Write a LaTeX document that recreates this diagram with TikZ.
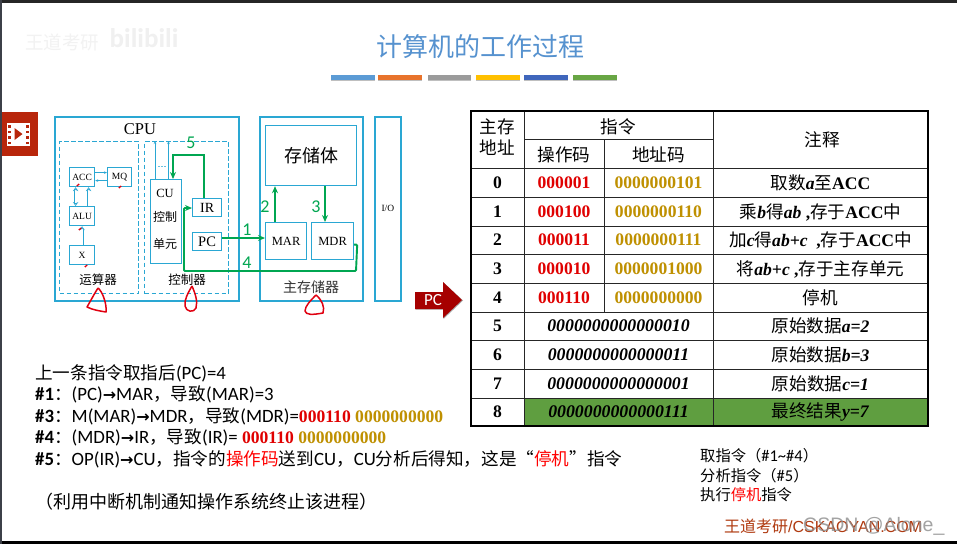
\documentclass[tikz,border=0pt]{standalone}
\usepackage{fontspec}
\usetikzlibrary{arrows.meta,calc,positioning}
\setmainfont{Liberation Serif}
\newfontfamily\cjk{Noto Sans CJK SC}
\newfontfamily\calfont{Carlito}
\newfontfamily\djv{DejaVu Sans}
\newfontfamily\lsans{Liberation Sans}
\newcommand\fz[1]{\fontsize{#1}{#1}\selectfont}
\newcommand\C[1]{{\cjk\mdseries\upshape #1}}
\newcommand\D[2]{{\cjk\mdseries\upshape\fz{#1}#2}}
\newcommand\Arw{{\djv\bfseries\fz{16}→}}
\definecolor{cyanc}{HTML}{2AA7D3}
\definecolor{grn}{HTML}{00A651}
\definecolor{redc}{HTML}{E00000}
\definecolor{gold}{HTML}{BF9000}
\definecolor{penred}{HTML}{E00010}
\definecolor{brick}{HTML}{B8260B}
\definecolor{tgreen}{HTML}{5F9E40}
\definecolor{titleblue}{HTML}{5692CF}
\definecolor{brandc}{HTML}{B03A10}
\definecolor{stripc}{HTML}{3C4048}
\newcommand\Op[1]{\textcolor{redc}{\textbf{#1}}}
\newcommand\Ad[1]{\textcolor{gold}{\textbf{#1}}}
\tikzset{
  bx/.style={draw=cyanc,line width=1.2pt,inner sep=0pt,anchor=north west,align=center},
  outer/.style={bx,line width=1.7pt},
  dbox/.style={draw=cyanc,line width=1.1pt,dash pattern=on 4.5pt off 2.5pt,inner sep=0pt,anchor=north west},
  lbl/.style={inner sep=0pt,align=center},
  gnum/.style={inner sep=0pt,text=grn,font=\calfont\fz{18}},
  garrow/.style={draw=grn,line width=1.9pt,-{Stealth[length=7pt,width=6pt]}},
  thinarrow/.style={draw=cyanc,line width=0.6pt,-{Stealth[length=3pt,width=2.5pt]}},
  hollow/.style={draw=cyanc,line width=0.6pt,double=white,double distance=1.8pt,-{Stealth[length=4pt,width=5.5pt,open,fill=white]}},
  hollowb/.style={hollow,{Stealth[length=4pt,width=5.5pt,open,fill=white]}-{Stealth[length=4pt,width=5.5pt,open,fill=white]}},
  redpen/.style={draw=penred,line width=1.5pt,line join=round},
  cell/.style={inner sep=0pt,font=\bfseries\fz{17.6}},
  txt/.style={inner sep=0pt,anchor=west,font=\calfont\fz{18.8}},
  txts/.style={inner sep=0pt,anchor=west,font=\calfont\fz{16.5}},
  tline/.style={draw=black!85,line width=0.8pt},
}
\begin{document}
\begin{tikzpicture}[x=1pt,y=-1pt]
\useasboundingbox (0,0) rectangle (957,544);
% frame
\fill[white] (0,0) rectangle (957,544);
\fill[black!85] (0,0) rectangle (957,3);
\fill[black] (0,541) rectangle (957,544);
\fill[stripc] (0,0) rectangle (2,544);
% watermark
\node[lbl,text=black!5,font=\cjk\fz{18.5}] (wm1) at (62,42) {王道考研};
\node[lbl,text=black!6,font=\calfont\bfseries\fz{27}] (wm2) at (144,38) {bilibili};
% title
\node[lbl,text=titleblue,font=\cjk\fz{26}] (title) at (480,47) {计算机的工作过程};
\foreach \a/\b/\c in {331/375/5B9BD5,378/422/E8732C,428/471/9B9B9B,476/520/FFC000,524/568/3F66BC,573/617/68A644}{
  \definecolor{barc}{HTML}{\c}
  \fill[black!25] (\a,76.5) rectangle (\b,80.5);
  \fill[barc] (\a,75) rectangle (\b,79.5);
}
% film icon
\fill[brick] (2,112) rectangle (38,156);
\fill[white] (7,122.5) rectangle (30,146);
\fill[brick] (14.5,128) -- (22.5,134) -- (14.5,140) -- cycle;
\foreach \yy in {125,130.5,136,141.5}{
  \fill[brick] (8,\yy) rectangle (11,\yy+2.5);
  \fill[brick] (26,\yy) rectangle (29,\yy+2.5);
}
% CPU
\node[outer,minimum width=184pt,minimum height=184pt] (cpu) at (54,116) {};
\node[lbl,font=\fz{16.5}] (cputxt) at (140,129) {CPU};
\node[dbox,minimum width=79pt,minimum height=152pt] (alubox) at (59,141) {};
\node[dbox,minimum width=84pt,minimum height=152pt] (ctl) at (144,141) {};
\node[bx,font=\fz{9.5},minimum width=25pt,minimum height=19pt] (acc) at (69,167) {ACC};
\node[bx,font=\fz{9.5},minimum width=24pt,minimum height=19pt] (mq) at (107,167) {MQ};
\node[bx,font=\fz{9.5},minimum width=25pt,minimum height=19pt] (alu) at (69,206) {ALU};
\node[bx,font=\fz{9.5},minimum width=25pt,minimum height=19pt] (xr) at (69,245) {X};
\node[lbl,font=\cjk\fz{12.5}] (yun) at (98,280) {运算器};
\node[lbl,font=\cjk\fz{12.5}] (kong) at (187,280) {控制器};
\node[bx,minimum width=31pt,minimum height=84pt] (cu) at (150,179) {};
\node[lbl,font=\fz{12.5}] (cut) at (165,193) {CU};
\node[lbl,font=\cjk\fz{12}] (cut2) at (165,217) {控制};
\node[lbl,font=\cjk\fz{12}] (cut3) at (165,244) {单元};
\node[bx,font=\fz{14},minimum width=29pt,minimum height=18pt] (ir) at (192,198) {IR};
\node[bx,font=\fz{14.5},minimum width=29pt,minimum height=18pt] (pc) at (192,232) {PC};
% CPU inner connectors
\draw[thinarrow] ([yshift=4.5pt]acc.east) -- ([yshift=4.5pt]acc.east -| mq.west);
\draw[thinarrow] ([yshift=-3.5pt]mq.west) -- ([yshift=-3.5pt]mq.west -| acc.east);
\draw[hollowb] ([xshift=-6.5pt]acc.south) -- ([xshift=-6.5pt]alu.north);
\draw[hollow] ([xshift=6.5pt]alu.north) -- ([xshift=6.5pt]acc.south);
\draw[hollow] (xr.north) -- (alu.south);
\coordinate (c1) at (155,141);
\coordinate (c2) at (168.5,141);
\draw[thinarrow] (c1 |- cu.north) -- (c1);
\draw[thinarrow] (c2 |- cu.north) -- (c2);
\draw[cyanc!70,line width=0.9pt,dash pattern=on 1.5pt off 1.7pt] (158,166) -- (167,166);
% Memory
\node[outer,minimum width=103pt,minimum height=184pt] (mem) at (259,116) {};
\node[bx,font=\cjk\fz{18},minimum width=91pt,minimum height=60pt] (body) at (265,125) {存储体};
\node[bx,font=\fz{12.5},minimum width=41pt,minimum height=37pt] (mar) at (265,222) {MAR};
\node[bx,font=\fz{12.5},minimum width=42pt,minimum height=37pt] (mdr) at (311,222) {MDR};
\node[lbl,font=\cjk\fz{14},text=black!80] (zhu) at (311,287) {主存储器};
\node[outer,font=\fz{9.5},minimum width=26pt,minimum height=184pt] (io) at (374,116) {I/O};
% green connectors
\draw[garrow] ([xshift=-3.5pt]ir.north) |- (173,155) -- (173,179);
\draw[garrow] (pc.east |- 0,238) -- (mar.west |- 0,238);
\draw[garrow] (mar.north -| 275,0) -- (body.south -| 275,0);
\draw[garrow] (body.south -| 325,0) -- (mdr.north -| 325,0);
\draw[garrow,rounded corners=1pt] ([yshift=-3.5pt]mdr.east) -- ++(3,0) -- (356,271) -- (184,271) |- (ir.west |- 0,208);
\node[gnum] (n1) at (247,230) {1};
\node[gnum] (n2) at (265,207) {2};
\node[gnum] (n3) at (316,207) {3};
\node[gnum] (n4) at (247,263) {4};
\node[gnum] (n5) at (191,143) {5};
% red pen
\draw[redpen] (98,288) .. controls (93,296) and (90,302) .. (87,307) .. controls (93,310) and (100,311) .. (106,312) .. controls (107,305) and (103,292) .. (98,288);
\draw[redpen] (192,286) .. controls (188,293) and (184,300) .. (185,306) .. controls (186,312) and (194,313) .. (196,308) .. controls (198,301) and (195,293) .. (192,286);
\draw[redpen] (316,295) .. controls (311,300) and (305,306) .. (305,311) .. controls (306,315) and (312,315) .. (323,313) .. controls (325,307) and (322,300) .. (316,295);
\foreach \px/\py in {78/185,120/187,80/229,86/266}{
  \draw[penred,line width=1.3pt] (\px-1.2,\py+1) -- (\px+1.2,\py-1);
}
% PC arrow
\fill[black!35] (415.5,292.5) -- (443.5,292.5) -- (443.5,282.5) -- (463,300.5) -- (443.5,319) -- (443.5,309.5) -- (415.5,309.5) -- cycle;
\fill[red!65!black] (415,292) -- (443,292) -- (443,282) -- (462,300) -- (443,318) -- (443,309) -- (415,309) -- cycle;
\node[lbl,text=white,font=\calfont\fz{17}] (pcarrow) at (433,300) {PC};
% table
\fill[tgreen] (524,398) rectangle (928,426);
\foreach \yy in {168,197,226,254,283,312,340,369,398}{ \draw[tline] (471,\yy) -- (928,\yy); }
\draw[tline] (524,139) -- (713,139);
\draw[tline] (524,111) -- (524,426);
\draw[tline] (604,139) -- (604,312);
\draw[tline] (713,111) -- (713,426);
\draw[black,line width=1.6pt] (471,111) rectangle (928,426);
\node[lbl,font=\cjk\fz{17.6}] (h1) at (497.5,127) {主存};
\node[lbl,font=\cjk\fz{17.6}] (h2) at (497.5,148) {地址};
\node[lbl,font=\cjk\fz{17.6}] (h3) at (618.5,127) {指令};
\node[lbl,font=\cjk\fz{17.6}] (h4) at (564,155) {操作码};
\node[lbl,font=\cjk\fz{17.6}] (h5) at (658.5,155) {地址码};
\node[lbl,font=\cjk\fz{17.6}] (h6) at (822,140) {注释};
\foreach \n/\yy in {0/183,1/212,2/240,3/269,4/297.5,5/326,6/354.5,7/383.5,8/412}{
  \node[cell] (a\n) at (497.5,\yy) {\n};
}
\node[cell] (p0) at (564,183) {\Op{000001}};
\node[cell] (p1) at (564,212) {\Op{000100}};
\node[cell] (p2) at (564,240) {\Op{000011}};
\node[cell] (p3) at (564,269) {\Op{000010}};
\node[cell] (p4) at (564,297.5) {\Op{000110}};
\node[cell] (d0) at (658.5,183) {\Ad{0000000101}};
\node[cell] (d1) at (658.5,212) {\Ad{0000000110}};
\node[cell] (d2) at (658.5,240) {\Ad{0000000111}};
\node[cell] (d3) at (658.5,269) {\Ad{0000001000}};
\node[cell] (d4) at (658.5,297.5) {\Ad{0000000000}};
\node[cell,font=\bfseries\itshape\fz{17.8}] (w5) at (618.5,326) {0000000000000010};
\node[cell,font=\bfseries\itshape\fz{17.8}] (w6) at (618.5,354.5) {0000000000000011};
\node[cell,font=\bfseries\itshape\fz{17.8}] (w7) at (618.5,383.5) {0000000000000001};
\node[cell,font=\bfseries\itshape\fz{17.8}] (w8) at (618.5,412) {0000000000000111};
\node[cell] (n0) at (820.5,183) {\C{取数}\textit{a}\C{至}ACC};
\node[cell] (n1x) at (820.5,212) {\C{乘}\textit{b}\C{得}\textit{ab} ,\C{存于}ACC\C{中}};
\node[cell] (n2x) at (820.5,240) {\C{加}\textit{c}\C{得}\textit{ab+c}\ \ ,\C{存于}ACC\C{中}};
\node[cell] (n3x) at (820.5,269) {\C{将}\textit{ab+c} ,\C{存于主存单元}};
\node[cell] (n4x) at (820.5,297.5) {\C{停机}};
\node[cell] (n5x) at (820.5,326) {\C{原始数据}\textit{a=2}};
\node[cell] (n6x) at (820.5,354.5) {\C{原始数据}\textit{b=3}};
\node[cell] (n7x) at (820.5,383.5) {\C{原始数据}\textit{c=1}};
\node[cell] (n8x) at (820.5,412) {\C{最终结果}\textit{y=7}};
% lower text
\node[txt] (t0) at (35,373) {\D{17.6}{上一条指令取指后}(PC)=4};
\node[txt] (t1) at (35,394) {\textbf{\#1}\D{17.6}{：}(PC)\Arw MAR\D{17.6}{，导致}(MAR)=3};
\node[txt] (t3) at (35,416) {\textbf{\#3}\D{17.6}{：}M(MAR)\Arw MDR\D{17.6}{，导致}(MDR)={\rmfamily\fz{17.6}\Op{000110} \Ad{0000000000}}};
\node[txt] (t4) at (35,437) {\textbf{\#4}\D{17.6}{：}(MDR)\Arw IR\D{17.6}{，导致}(IR)= {\rmfamily\fz{17.6}\Op{000110} \Ad{0000000000}}};
\node[txt] (t5) at (35,459) {\textbf{\#5}\D{17.6}{：}OP(IR)\Arw CU\D{17.6}{，指令的}\textcolor{red}{\D{17.6}{操作码}}\D{17.6}{送到}CU\D{17.6}{，}CU\D{17.6}{分析后得知，这是“}\textcolor{red}{\D{17.6}{停机}}\D{17.6}{”指令}};
\node[txt] (t6) at (35,502) {\D{18}{（利用中断机制通知操作系统终止该进程）}};
\node[txts] (r1) at (700,456) {\D{15.3}{取指令（}\#1\textasciitilde\#4\D{15.3}{）}};
\node[txts] (r2) at (700,476) {\D{15.3}{分析指令（}\#5\D{15.3}{）}};
\node[txts] (r3) at (700,495) {\D{15.3}{执行}\textcolor{red}{\D{15.3}{停机}}\D{15.3}{指令}};
\node[inner sep=0pt,anchor=west,text=brandc,font=\lsans\fz{16}] (brand) at (724,526) {\C{王道考研}/CSKAOYAN.COM};
\node[inner sep=0pt,anchor=west,text=black!45,opacity=.8,font=\lsans\fz{19.5}] (csdn) at (803,526) {CSDN @Alone\_};
\end{tikzpicture}
\end{document}
